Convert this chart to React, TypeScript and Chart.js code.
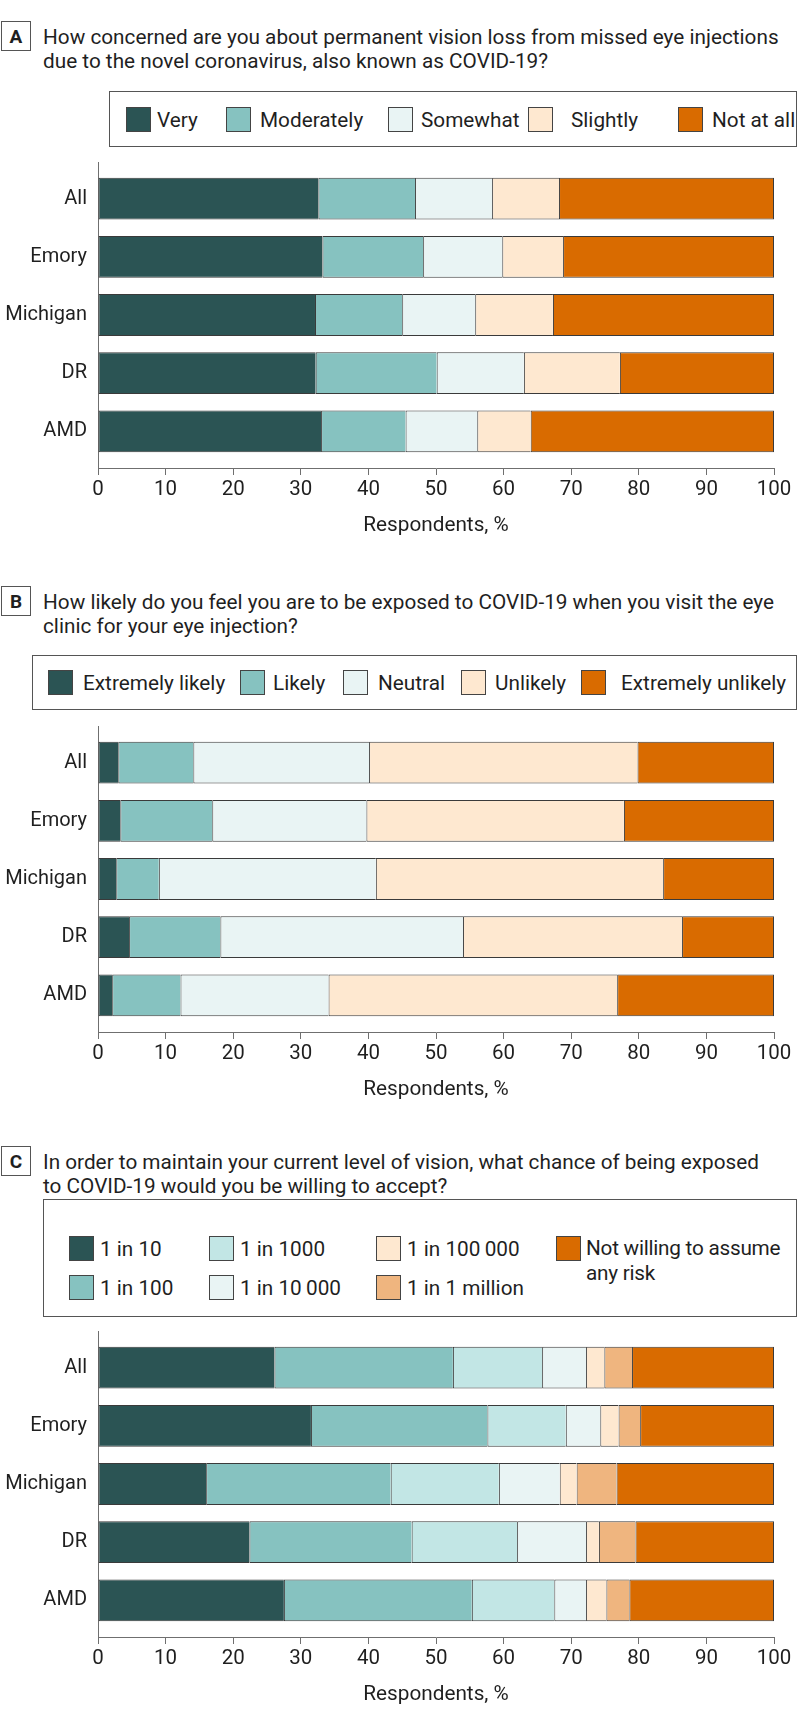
import React, { useEffect, useRef } from 'react';
import { Chart, registerables } from 'chart.js';

Chart.register(...registerables);

const FONT = 'Roboto, "DejaVu Sans Condensed", sans-serif';

// ---------- data ----------
const categories = ['All', 'Emory', 'Michigan', 'DR', 'AMD'];
const categoryIndex = [0, 1, 2, 3, 4];
const axisTitle = 'Respondents, %';

// Panel A: concern about permanent vision loss
const concernLabels = ['Very', 'Moderately', 'Somewhat', 'Slightly', 'Not at all'];
const concernVery = [32.6, 33.2, 32.1, 32.2, 33.0];
const concernModerately = [14.3, 14.9, 12.9, 17.9, 12.5];
const concernSomewhat = [11.4, 11.7, 10.8, 12.9, 10.6];
const concernSlightly = [9.9, 9.0, 11.5, 14.2, 7.9];
const concernNotAtAll = [31.8, 31.2, 32.7, 22.8, 36.0];

// Panel B: likelihood of exposure at the clinic
const exposureLabels = ['Extremely likely', 'Likely', 'Neutral', 'Unlikely', 'Extremely unlikely'];
const exposureExtremelyLikely = [3.0, 3.3, 2.7, 4.6, 2.1];
const exposureLikely = [11.1, 13.6, 6.3, 13.5, 10.1];
const exposureNeutral = [26.0, 22.8, 32.1, 35.9, 21.9];
const exposureUnlikely = [39.7, 38.1, 42.5, 32.4, 42.7];
const exposureExtremelyUnlikely = [20.2, 22.2, 16.4, 13.6, 23.2];

// Panel C: acceptable chance of exposure
const riskLabels = ['1 in 10', '1 in 100', '1 in 1000', '1 in 10\u2009000', '1 in 100\u2009000', '1 in 1 million', 'Not willing to assume any risk'];
const risk10 = [26.1, 31.5, 16.0, 22.4, 27.5];
const risk100 = [26.4, 26.1, 27.3, 24.0, 27.8];
const risk1000 = [13.2, 11.6, 16.0, 15.6, 12.2];
const risk10000 = [6.5, 5.1, 9.0, 10.2, 4.7];
const risk100000 = [2.7, 2.7, 2.5, 1.9, 3.0];
const risk1million = [4.1, 3.2, 5.9, 5.4, 3.4];
const riskNotWilling = [21.0, 19.8, 23.3, 20.5, 21.4];

// ---------- styles ----------
const C_DARK = '#2b5454';
const C_TEAL = '#86c2c0';
const C_PALE = '#e9f4f4';
const C_CYAN = '#c2e6e5';
const C_PEACH = '#fee8d0';
const C_LORANGE = '#efb57f';
const C_ORANGE = '#d96b00';
const BORDER = '#3a3a3a';
const TEXT = '#1f1f1f';
const TXT_SIZE = 20.75;

const panelA = {
  letter: 'A',
  titleLines: ['How concerned are you about permanent vision loss from missed eye injections', 'due to the novel coronavirus, also known as COVID-19?'],
  series: [concernVery, concernModerately, concernSomewhat, concernSlightly, concernNotAtAll],
  labels: concernLabels,
  colors: [C_DARK, C_TEAL, C_PALE, C_PEACH, C_ORANGE],
};
const panelB = {
  letter: 'B',
  titleLines: ['How likely do you feel you are to be exposed to COVID-19 when you visit the eye', 'clinic for your eye injection?'],
  series: [exposureExtremelyLikely, exposureLikely, exposureNeutral, exposureUnlikely, exposureExtremelyUnlikely],
  labels: exposureLabels,
  colors: [C_DARK, C_TEAL, C_PALE, C_PEACH, C_ORANGE],
};
const panelC = {
  letter: 'C',
  titleLines: ['In order to maintain your current level of vision, what chance of being exposed', 'to COVID-19 would you be willing to accept?'],
  series: [risk10, risk100, risk1000, risk10000, risk100000, risk1million, riskNotWilling],
  labels: riskLabels,
  colors: [C_DARK, C_TEAL, C_CYAN, C_PALE, C_PEACH, C_LORANGE, C_ORANGE],
};

// layout (pixels)
const AXIS_SPAN = 306;
const PAD_TOP = 25;
const X_AXIS_H = 82;
const Y_MIN = -0.63;
const Y_MAX = 4.63;

function BarChart({ panel, axisTop }: { panel: any; axisTop: number }) {
  const ref = useRef<HTMLCanvasElement | null>(null);
  useEffect(() => {
    if (!ref.current) return;
    const n = panel.series.length;
    const chart = new Chart(ref.current, {
      type: 'bar',
      data: {
        datasets: panel.series.map((vals: number[], k: number) => ({
          label: panel.labels[k],
          data: vals.map((v, i) => ({ x: v, y: categoryIndex[i] })),
          backgroundColor: panel.colors[k],
          borderColor: BORDER,
          borderWidth: { top: 1, bottom: 1, left: 1, right: k === n - 1 ? 1 : 0 },
          borderSkipped: false,
          barPercentage: 0.72,
          categoryPercentage: 1,
        })),
      },
      options: {
        indexAxis: 'y',
        animation: false,
        responsive: false,
        maintainAspectRatio: false,
        events: [],
        layout: { padding: { top: PAD_TOP, right: 24, bottom: 0, left: 0 } },
        plugins: { legend: { display: false }, tooltip: { enabled: false } },
        scales: {
          x: {
            type: 'linear',
            stacked: true,
            min: 0,
            max: 100,
            ticks: { stepSize: 10, autoSkip: false, maxRotation: 0, padding: 3, color: TEXT, font: { family: FONT, size: 20.5 } },
            grid: { drawOnChartArea: false, drawTicks: true, tickLength: 7, color: '#6f6f6f', lineWidth: 1 },
            border: { display: true, color: '#6f6f6f', width: 1 },
            title: { display: true, text: axisTitle, color: TEXT, font: { family: FONT, size: TXT_SIZE }, padding: { top: 0, bottom: 12 } },
            afterFit: (s: any) => { s.height = X_AXIS_H; },
          },
          y: {
            type: 'linear',
            stacked: true,
            reverse: true,
            offset: false,
            bounds: 'data',
            min: Y_MIN,
            max: Y_MAX,
            ticks: {
              stepSize: 1, includeBounds: false, autoSkip: false, padding: 11, color: TEXT,
              font: { family: FONT, size: 20 },
              callback: (v: any) => (categories[v as number] ?? ''),
            },
            grid: { display: false, drawTicks: false },
            border: { display: true, color: '#6f6f6f', width: 1 },
            afterBuildTicks: (s: any) => {
              s.min = Y_MIN; s.max = Y_MAX;
              s.ticks = categoryIndex.map((v) => ({ value: v }));
            },
            afterFit: (s: any) => { s.width = 98; },
          },
        },
      } as any,
    });
    return () => chart.destroy();
  }, [panel]);
  return (
    <canvas ref={ref} width={798} height={PAD_TOP + AXIS_SPAN + X_AXIS_H}
      style={{ position: 'absolute', left: 0, top: axisTop - PAD_TOP, display: 'block' }} />
  );
}

function Header({ letter, lines, top }: { letter: string; lines: string[]; top: number }) {
  return (
    <>
      <div style={{ position: 'absolute', left: 1, top, width: 28, height: 28, border: '1px solid #555', display: 'flex', alignItems: 'center', justifyContent: 'center', fontWeight: 'bold', fontSize: 19, color: TEXT }}>{letter}</div>
      <div style={{ position: 'absolute', left: 43, top: top + 4, fontSize: TXT_SIZE, lineHeight: '24px', whiteSpace: 'nowrap', color: TEXT }}>
        {lines.map((l, i) => (<div key={i}>{l}</div>))}
      </div>
    </>
  );
}

function Swatch({ left, top, color }: { left: number; top: number; color: string }) {
  return <div style={{ position: 'absolute', left, top, width: 23, height: 23, background: color, border: '1px solid #444' }} />;
}

function LegendText({ left, top, children }: { left: number; top: number; children: any }) {
  return <div style={{ position: 'absolute', left, top, height: 25, display: 'flex', alignItems: 'center', fontSize: TXT_SIZE, whiteSpace: 'nowrap', color: TEXT }}>{children}</div>;
}

function LegendBox({ left, top, height }: { left: number; top: number; height: number }) {
  return <div style={{ position: 'absolute', left, top, width: 797 - left - 2, height: height - 2, border: '1px solid #555' }} />;
}

export default function App() {
  const aSw = [126, 226, 388, 528, 678];
  const aTx = [157, 260, 421, 571, 712];
  const bSw = [48, 240, 343, 461, 581];
  const bTx = [83, 273, 378, 495, 621];
  const cSw = [69, 209, 376, 556];
  const cTx = [100, 240, 407, 586];
  return (
    <div style={{ position: 'absolute', left: 0, top: 0, width: 798, height: 1723, background: '#fff', fontFamily: FONT, color: TEXT, overflow: 'hidden' }}>
      {/* Panel A */}
      <Header letter={panelA.letter} lines={panelA.titleLines} top={21} />
      <LegendBox left={109} top={91} height={56} />
      {panelA.labels.map((l, i) => (
        <React.Fragment key={l}>
          <Swatch left={aSw[i]} top={107} color={panelA.colors[i]} />
          <LegendText left={aTx[i]} top={107}>{l}</LegendText>
        </React.Fragment>
      ))}
      <BarChart panel={panelA} axisTop={162} />

      {/* Panel B */}
      <Header letter={panelB.letter} lines={panelB.titleLines} top={586} />
      <LegendBox left={32} top={655} height={55} />
      {panelB.labels.map((l, i) => (
        <React.Fragment key={l}>
          <Swatch left={bSw[i]} top={670} color={panelB.colors[i]} />
          <LegendText left={bTx[i]} top={670}>{l}</LegendText>
        </React.Fragment>
      ))}
      <BarChart panel={panelB} axisTop={726} />

      {/* Panel C */}
      <Header letter={panelC.letter} lines={panelC.titleLines} top={1146} />
      <LegendBox left={43} top={1199} height={118} />
      {panelC.labels.map((l, i) => {
        const col = Math.floor(i / 2);
        const top = i % 2 === 0 ? 1236 : 1275;
        if (i === 6) {
          return (
            <React.Fragment key={l}>
              <Swatch left={cSw[3]} top={1236} color={panelC.colors[i]} />
              <div style={{ position: 'absolute', left: cTx[3], top: 1236, width: 208, fontSize: TXT_SIZE, letterSpacing: '-0.25px', lineHeight: '25px', color: TEXT }}>{l}</div>
            </React.Fragment>
          );
        }
        return (
          <React.Fragment key={l}>
            <Swatch left={cSw[col]} top={top} color={panelC.colors[i]} />
            <LegendText left={cTx[col]} top={top}>{l}</LegendText>
          </React.Fragment>
        );
      })}
      <BarChart panel={panelC} axisTop={1331} />
    </div>
  );
}
